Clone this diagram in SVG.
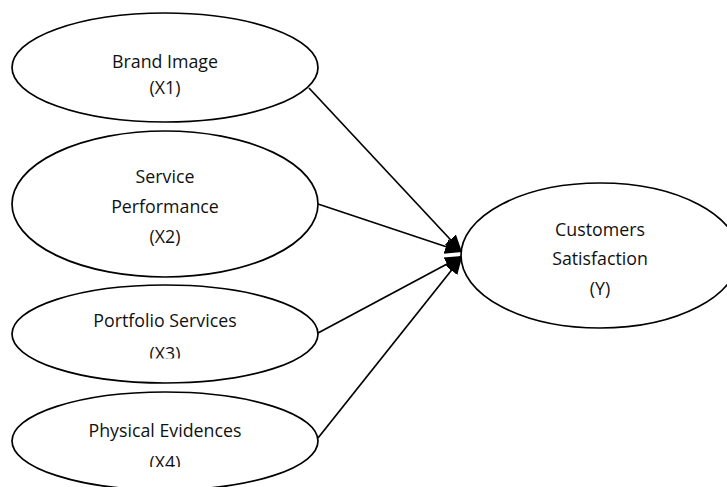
<svg xmlns="http://www.w3.org/2000/svg" width="727" height="487" viewBox="0 0 727 487">
  <style>
    .node ellipse { fill: #ffffff; stroke: #000000; stroke-width: 1.7; }
    .node text { font-family: "Open Sans", "Liberation Sans", sans-serif; font-size: 17.8px; fill: #111111; text-anchor: middle; }
    .edge { stroke: #000000; stroke-width: 1.7; fill: none; marker-end: url(#arrow); }
  </style>
  <defs>
    <marker id="arrow" markerUnits="userSpaceOnUse" markerWidth="18" markerHeight="18" refX="17" refY="9" orient="auto">
      <path d="M0,1.5 L17,9 L0,16.5 Z" fill="#000000"/>
    </marker>
    <clipPath id="clipX3"><rect x="0" y="0" width="727" height="358.5"/></clipPath>
    <clipPath id="clipX4"><rect x="0" y="0" width="727" height="467"/></clipPath>
  </defs>

  <g id="connectors">
    <line class="edge" x1="309" y1="88" x2="462" y2="252"/>
    <line class="edge" x1="318" y1="204" x2="462" y2="252"/>
    <line class="edge" x1="318" y1="333" x2="462" y2="256"/>
    <line class="edge" x1="318" y1="438" x2="462" y2="257"/>
  </g>

  <g id="node-x1" class="node">
    <ellipse cx="165" cy="67.5" rx="153" ry="54.5"/>
    <text x="165" y="67.5">Brand Image</text>
    <text x="165" y="93.5">(X1)</text>
  </g>

  <g id="node-x2" class="node">
    <ellipse cx="165" cy="204" rx="153" ry="73"/>
    <text x="165" y="183.3">Service</text>
    <text x="165" y="213.3">Performance</text>
    <text x="165" y="243.3">(X2)</text>
  </g>

  <g id="node-x3" class="node">
    <ellipse cx="165" cy="334" rx="153" ry="49"/>
    <text x="165" y="326.5">Portfolio Services</text>
    <text x="165" y="360" clip-path="url(#clipX3)">(X3)</text>
  </g>

  <g id="node-x4" class="node">
    <ellipse cx="165" cy="441" rx="153" ry="49"/>
    <text x="165" y="436.5">Physical Evidences</text>
    <text x="165" y="469" clip-path="url(#clipX4)">(X4)</text>
  </g>

  <g id="node-y" class="node">
    <ellipse cx="600" cy="255.5" rx="139" ry="72.5"/>
    <text x="600" y="235.5">Customers</text>
    <text x="600" y="265">Satisfaction</text>
    <text x="600" y="295">(Y)</text>
  </g>
</svg>
